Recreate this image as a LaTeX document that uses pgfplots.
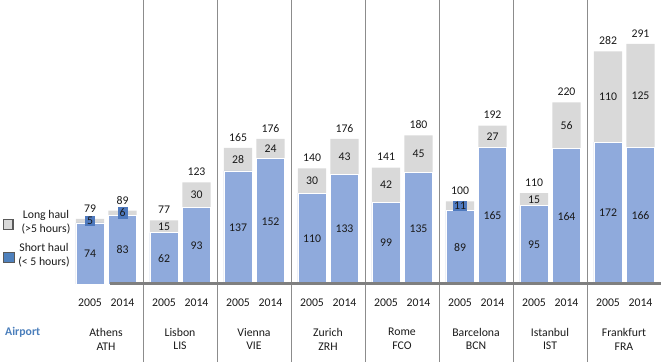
\documentclass[border=0pt]{standalone}
\usepackage{pgfplots}
\pgfplotsset{compat=1.18}
\usepackage{pgfplotstable}
\usepackage{fontspec}
\setmainfont{Carlito}

\definecolor{shortc}{HTML}{8FAADC}
\definecolor{longc}{HTML}{D9D9D9}
\definecolor{boxc}{HTML}{4E79BE}
\definecolor{sepc}{HTML}{8C8C8C}
\definecolor{basec}{HTML}{7F7F7F}
\definecolor{txt}{HTML}{1A1A1A}
\definecolor{legblue}{HTML}{4F81BD}
\definecolor{legborder}{HTML}{595959}
\definecolor{airc}{HTML}{4A7EBB}

\pgfplotstableread{
x short long total
-0.216 74 5 79
0.223 83 6 89
0.784 62 15 77
1.223 93 30 123
1.784 137 28 165
2.223 152 24 176
2.784 110 30 140
3.223 133 43 176
3.784 99 42 141
4.223 135 45 180
4.784 89 11 100
5.223 165 27 192
5.784 95 15 110
6.223 164 56 220
6.784 172 110 282
7.223 166 125 291
}\data

\newcommand{\lblfont}{\fontsize{11.8}{14}\selectfont}

\begin{document}
\begin{tikzpicture}[font=\lblfont]
\begin{axis}[
  x=74bp, y=0.825bp,
  xmin=-0.5, xmax=7.5, ymin=0, ymax=344.2,
  axis line style={draw=none}, tick style={draw=none}, ytick=\empty,
  xtick={-0.216,0.223,0.784,1.223,1.784,2.223,2.784,3.223,3.784,4.223,4.784,5.223,5.784,6.223,6.784,7.223},
  xticklabels={2005,2014,2005,2014,2005,2014,2005,2014,2005,2014,2005,2014,2005,2014,2005,2014},
  xticklabel style={anchor=center, yshift=-19bp, text=txt, font=\lblfont},
  /pgf/number format/assume math mode=true,
  clip=false,
]
% bars: total (grey) with short haul (blue) on top of it
\addplot[ybar, bar width=0.38, bar shift=0pt, fill=longc, draw=none] table[x=x, y=total]{\data};
\addplot[ybar, bar width=0.38, bar shift=0pt, fill=shortc, draw=white, line width=0.7bp] table[x=x, y=short]{\data};

% short haul labels
\addplot[only marks, mark=none, nodes near coords, point meta=explicit symbolic,
  every node near coord/.append style={anchor=center, text=txt, font=\lblfont}]
  table[x=x, y expr=\thisrow{short}/2, meta=short]{\data};
% long haul labels (large segments)
\addplot[only marks, mark=none, nodes near coords, point meta=explicit symbolic,
  restrict expr to domain={\thisrow{long}}{12:1000},
  every node near coord/.append style={anchor=center, text=txt, font=\lblfont}]
  table[x=x, y expr=\thisrow{short}+\thisrow{long}/2, meta=long]{\data};
% long haul labels (small segments, boxed)
\addplot[only marks, mark=none, nodes near coords, point meta=explicit symbolic,
  restrict expr to domain={\thisrow{long}}{0:12},
  every node near coord/.append style={anchor=center, text=txt, font=\lblfont, fill=boxc, inner sep=1.5bp, minimum width=10bp}]
  table[x=x, y expr=\thisrow{short}+\thisrow{long}/2, meta=long]{\data};
% totals
\addplot[only marks, mark=none, nodes near coords, point meta=explicit symbolic,
  every node near coord/.append style={anchor=center, yshift=10.5bp, text=txt, font=\lblfont}]
  table[x=x, y=total, meta=total]{\data};

% separators
\pgfplotsinvokeforeach{0.5,1.5,2.5,3.5,4.5,5.5,6.5}{
  \draw[sepc, line width=0.9bp] (axis cs:#1,-94.5) -- (axis cs:#1,344.2);
}
% baselines
\pgfplotsinvokeforeach{0,1,2,3,4,5,6,7}{
  \draw[basec, line width=3bp] (axis cs:#1,0) ++(-33bp,0) -- ++(65bp,0);
}
% airport names
\node[align=center, text=txt, font=\lblfont] at ([yshift=-55bp]axis cs:0,0) {Athens\\ATH};
\node[align=center, text=txt, font=\lblfont] at ([yshift=-55bp]axis cs:1,0) {Lisbon\\LIS};
\node[align=center, text=txt, font=\lblfont] at ([yshift=-55bp]axis cs:2,0) {Vienna\\VIE};
\node[align=center, text=txt, font=\lblfont] at ([yshift=-55bp]axis cs:3,0) {Zurich\\ZRH};
\node[align=center, text=txt, font=\lblfont] at ([yshift=-55bp]axis cs:4,0) {Rome\\FCO};
\node[align=center, text=txt, font=\lblfont] at ([yshift=-55bp]axis cs:5,0) {Barcelona\\BCN};
\node[align=center, text=txt, font=\lblfont] at ([yshift=-55bp]axis cs:6,0) {Istanbul\\IST};
\node[align=center, text=txt, font=\lblfont] at ([yshift=-55bp]axis cs:7,0) {Frankfurt\\FRA};

\coordinate (O) at (axis cs:-0.5,0);
\coordinate (bl) at (axis cs:-1.4324,-94.5);
\coordinate (tr) at (axis cs:7.5,344.2);
\end{axis}

% legend
\draw[fill=longc, draw=legborder, line width=1.3bp] ([xshift=-65.5bp,yshift=54.5bp]O) rectangle ([xshift=-56bp,yshift=64.5bp]O);
\draw[fill=legblue, draw=legborder, line width=1.3bp] ([xshift=-65.5bp,yshift=21.5bp]O) rectangle ([xshift=-54.5bp,yshift=31.5bp]O);
\node[align=center, text=txt, font=\lblfont] at ([xshift=-23bp,yshift=61.5bp]O) {Long haul\\(>5 hours)};
\node[align=center, text=txt, font=\lblfont] at ([xshift=-25bp,yshift=29bp]O) {Short haul\\(< 5 hours)};
\node[anchor=west, text=airc, font=\lblfont\bfseries, inner sep=0pt] at ([xshift=-64bp,yshift=-48bp]O) {Airport};

\pgfresetboundingbox
\path[use as bounding box] (bl) rectangle (tr);
\end{tikzpicture}
\end{document}
